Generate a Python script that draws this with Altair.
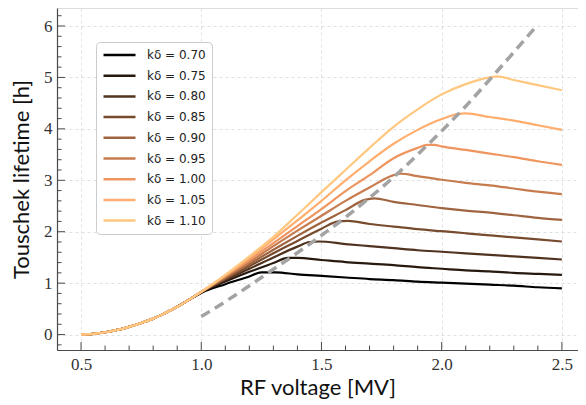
import altair as alt
import pandas as pd

# ---------------- data ----------------
k_labels = ["kδ = 0.70", "kδ = 0.75", "kδ = 0.80", "kδ = 0.85", "kδ = 0.90",
            "kδ = 0.95", "kδ = 1.00", "kδ = 1.05", "kδ = 1.10"]
copper_colors = ["#000000", "#28190f", "#50321f", "#784b2f", "#9f643f",
                 "#c77c4f", "#ef955f", "#ffae6f", "#ffc77f"]

# common rising part (all curves coincide below 1 MV)
x_rise = [0.5, 0.55, 0.6, 0.65, 0.7, 0.75, 0.8, 0.85, 0.9, 0.95]
y_rise = [0.0, 0.012, 0.045, 0.09, 0.15, 0.225, 0.31, 0.42, 0.54, 0.68]

x_070 = [1.0, 1.1, 1.2, 1.25, 1.31, 1.4, 1.5, 1.6, 1.7, 1.8, 1.9, 2.0, 2.1, 2.2, 2.3, 2.4, 2.5]
y_070 = [0.81, 0.98, 1.13, 1.21, 1.21, 1.17, 1.14, 1.11, 1.08, 1.06, 1.03, 1.01, 0.99, 0.97, 0.95, 0.92, 0.90]

x_075 = [1.0, 1.1, 1.2, 1.3, 1.36, 1.40, 1.5, 1.6, 1.7, 1.8, 1.9, 2.0, 2.1, 2.2, 2.3, 2.4, 2.5]
y_075 = [0.82, 1.03, 1.22, 1.39, 1.49, 1.49, 1.45, 1.41, 1.38, 1.35, 1.31, 1.28, 1.25, 1.23, 1.20, 1.18, 1.16]

x_080 = [1.0, 1.1, 1.2, 1.3, 1.4, 1.45, 1.49, 1.6, 1.7, 1.8, 1.9, 2.0, 2.1, 2.2, 2.3, 2.4, 2.5]
y_080 = [0.82, 1.06, 1.28, 1.50, 1.71, 1.80, 1.81, 1.76, 1.72, 1.68, 1.64, 1.61, 1.58, 1.55, 1.52, 1.49, 1.46]

x_085 = [1.0, 1.1, 1.2, 1.3, 1.4, 1.5, 1.57, 1.61, 1.7, 1.8, 1.9, 2.0, 2.1, 2.2, 2.3, 2.4, 2.5]
y_085 = [0.83, 1.08, 1.33, 1.58, 1.82, 2.06, 2.20, 2.21, 2.15, 2.10, 2.05, 2.01, 1.97, 1.93, 1.89, 1.85, 1.81]

x_090 = [1.0, 1.1, 1.2, 1.3, 1.4, 1.5, 1.6, 1.68, 1.72, 1.8, 1.9, 2.0, 2.1, 2.2, 2.3, 2.4, 2.5]
y_090 = [0.83, 1.10, 1.37, 1.65, 1.92, 2.18, 2.42, 2.62, 2.65, 2.58, 2.52, 2.46, 2.41, 2.37, 2.32, 2.27, 2.23]

x_095 = [1.0, 1.1, 1.2, 1.3, 1.4, 1.5, 1.6, 1.7, 1.8, 1.83, 1.9, 2.0, 2.1, 2.2, 2.3, 2.4, 2.5]
y_095 = [0.83, 1.12, 1.41, 1.72, 2.02, 2.31, 2.60, 2.86, 3.10, 3.13, 3.08, 3.01, 2.95, 2.90, 2.84, 2.78, 2.73]

x_100 = [1.0, 1.1, 1.2, 1.3, 1.4, 1.5, 1.6, 1.7, 1.8, 1.9, 1.94, 1.97, 2.0, 2.1, 2.2, 2.3, 2.4, 2.5]
y_100 = [0.83, 1.14, 1.45, 1.78, 2.11, 2.44, 2.79, 3.10, 3.43, 3.63, 3.69, 3.69, 3.66, 3.59, 3.52, 3.45, 3.37, 3.30]

x_105 = [1.0, 1.1, 1.2, 1.3, 1.4, 1.5, 1.6, 1.7, 1.8, 1.9, 2.0, 2.07, 2.1, 2.2, 2.3, 2.4, 2.5]
y_105 = [0.83, 1.15, 1.49, 1.85, 2.22, 2.60, 3.00, 3.37, 3.71, 3.98, 4.19, 4.29, 4.30, 4.23, 4.16, 4.07, 3.98]

x_110 = [1.0, 1.1, 1.2, 1.3, 1.4, 1.5, 1.6, 1.7, 1.8, 1.9, 2.0, 2.1, 2.2, 2.23, 2.3, 2.4, 2.5]
y_110 = [0.83, 1.16, 1.52, 1.90, 2.33, 2.77, 3.20, 3.63, 4.04, 4.38, 4.67, 4.87, 5.00, 5.02, 4.95, 4.85, 4.75]

# dashed locus of the maxima
x_dash = [1.0, 1.1, 1.2, 1.3, 1.4, 1.5, 1.6, 1.7, 1.8, 1.9, 2.0, 2.1, 2.2, 2.3, 2.4]
y_dash = [0.35, 0.64, 0.95, 1.27, 1.59, 1.93, 2.28, 2.66, 3.06, 3.50, 3.96, 4.44, 4.96, 5.49, 6.03]

# tick positions
x_major = [0.5, 1.0, 1.5, 2.0, 2.5]
x_minor = [0.6, 0.7, 0.8, 0.9, 1.1, 1.2, 1.3, 1.4, 1.6, 1.7, 1.8, 1.9,
           2.1, 2.2, 2.3, 2.4]
y_major = [0, 1, 2, 3, 4, 5, 6]
y_minor = [-0.2, 0.2, 0.4, 0.6, 0.8, 1.2, 1.4, 1.6, 1.8, 2.2, 2.4, 2.6, 2.8,
           3.2, 3.4, 3.6, 3.8, 4.2, 4.4, 4.6, 4.8, 5.2, 5.4, 5.6, 5.8, 6.2]

# ---------------- tables ----------------
curves = [(x_070, y_070), (x_075, y_075), (x_080, y_080), (x_085, y_085),
          (x_090, y_090), (x_095, y_095), (x_100, y_100), (x_105, y_105),
          (x_110, y_110)]
rows = []
for lab, (xs_, ys_) in zip(k_labels, curves):
    for i, (xv, yv) in enumerate(zip(x_rise + xs_, y_rise + ys_)):
        rows.append({"x": xv, "y": yv, "k": lab, "o": i})
df = pd.DataFrame(rows)
df_dash = pd.DataFrame({"x": x_dash, "y": y_dash})
df_xmaj = pd.DataFrame({"x": x_major})
df_xmin = pd.DataFrame({"x": x_minor})
df_ymaj = pd.DataFrame({"y": y_major})
df_ymin = pd.DataFrame({"y": y_minor})

W, H = 521, 342
XDOM = [0.4, 2.567]
YDOM = [-0.3, 6.35]
tick_color = "#4a4a4a"

xs = alt.Scale(domain=XDOM, nice=False, zero=False)
ys = alt.Scale(domain=YDOM, nice=False, zero=False)

x_axis = alt.Axis(values=x_major, format=".1f", title="RF voltage [MV]",
                  labelFont="Liberation Serif", labelFontSize=17,
                  labelColor="#333333", labelPadding=6,
                  titleFont="Lato", titleFontSize=22, titleFontWeight="normal",
                  titleColor="#111111", titlePadding=5,
                  ticks=False, tickSize=0, domainColor=tick_color, domainWidth=1.2,
                  grid=True, gridColor="#d8d8d8", gridDash=[3, 3], gridWidth=0.8)
y_axis = alt.Axis(values=y_major, format="d", title="Touschek lifetime [h]",
                  labelFont="Liberation Serif", labelFontSize=17,
                  labelColor="#333333", labelPadding=5,
                  titleFont="Lato", titleFontSize=22, titleFontWeight="normal",
                  titleColor="#111111", titlePadding=10,
                  ticks=False, tickSize=0, domainColor=tick_color, domainWidth=1.2,
                  grid=True, gridColor="#d8d8d8", gridDash=[3, 3], gridWidth=0.8)

lines = alt.Chart(df).mark_line(strokeWidth=2.2, interpolate="monotone").encode(
    x=alt.X("x:Q", scale=xs, axis=x_axis),
    y=alt.Y("y:Q", scale=ys, axis=y_axis),
    order="o:Q",
    color=alt.Color("k:N", scale=alt.Scale(domain=k_labels, range=copper_colors),
                    legend=alt.Legend(title=None, orient="none", legendX=39, legendY=34,
                                      symbolType="stroke", symbolSize=1024,
                                      symbolStrokeWidth=2.5, clipHeight=14,
                                      rowPadding=6.7, padding=6,
                                      labelFont="DejaVu Sans", labelFontSize=12,
                                      labelColor="#222222", labelOffset=10,
                                      fillColor="white", strokeColor="#cccccc",
                                      cornerRadius=4)),
)

dash = alt.Chart(df_dash).mark_line(color="#a3a3a3", strokeWidth=3.5,
                                    strokeDash=[10, 6], interpolate="monotone").encode(
    x=alt.X("x:Q", scale=xs), y=alt.Y("y:Q", scale=ys))

xticks_major = alt.Chart(df_xmaj).mark_rule(color=tick_color, strokeWidth=1).encode(
    x=alt.X("x:Q", scale=xs), y=alt.value(H), y2=alt.value(H - 8))
xticks_minor = alt.Chart(df_xmin).mark_rule(color=tick_color, strokeWidth=1).encode(
    x=alt.X("x:Q", scale=xs), y=alt.value(H), y2=alt.value(H - 4.5))
yticks_major = alt.Chart(df_ymaj).mark_rule(color=tick_color, strokeWidth=1).encode(
    y=alt.Y("y:Q", scale=ys), x=alt.value(0), x2=alt.value(8))
yticks_minor = alt.Chart(df_ymin).mark_rule(color=tick_color, strokeWidth=1).encode(
    y=alt.Y("y:Q", scale=ys), x=alt.value(0), x2=alt.value(4.5))

chart = alt.layer(lines, dash, xticks_major, xticks_minor, yticks_major, yticks_minor).properties(
    width=W, height=H,
    padding={"left": 49, "top": 0, "right": 0, "bottom": 55},
    autosize=alt.AutoSizeParams(type="none"),
).configure_view(strokeWidth=0).configure(background="white")

chart.save("out.html", embed_options={"renderer": "svg", "actions": False})
